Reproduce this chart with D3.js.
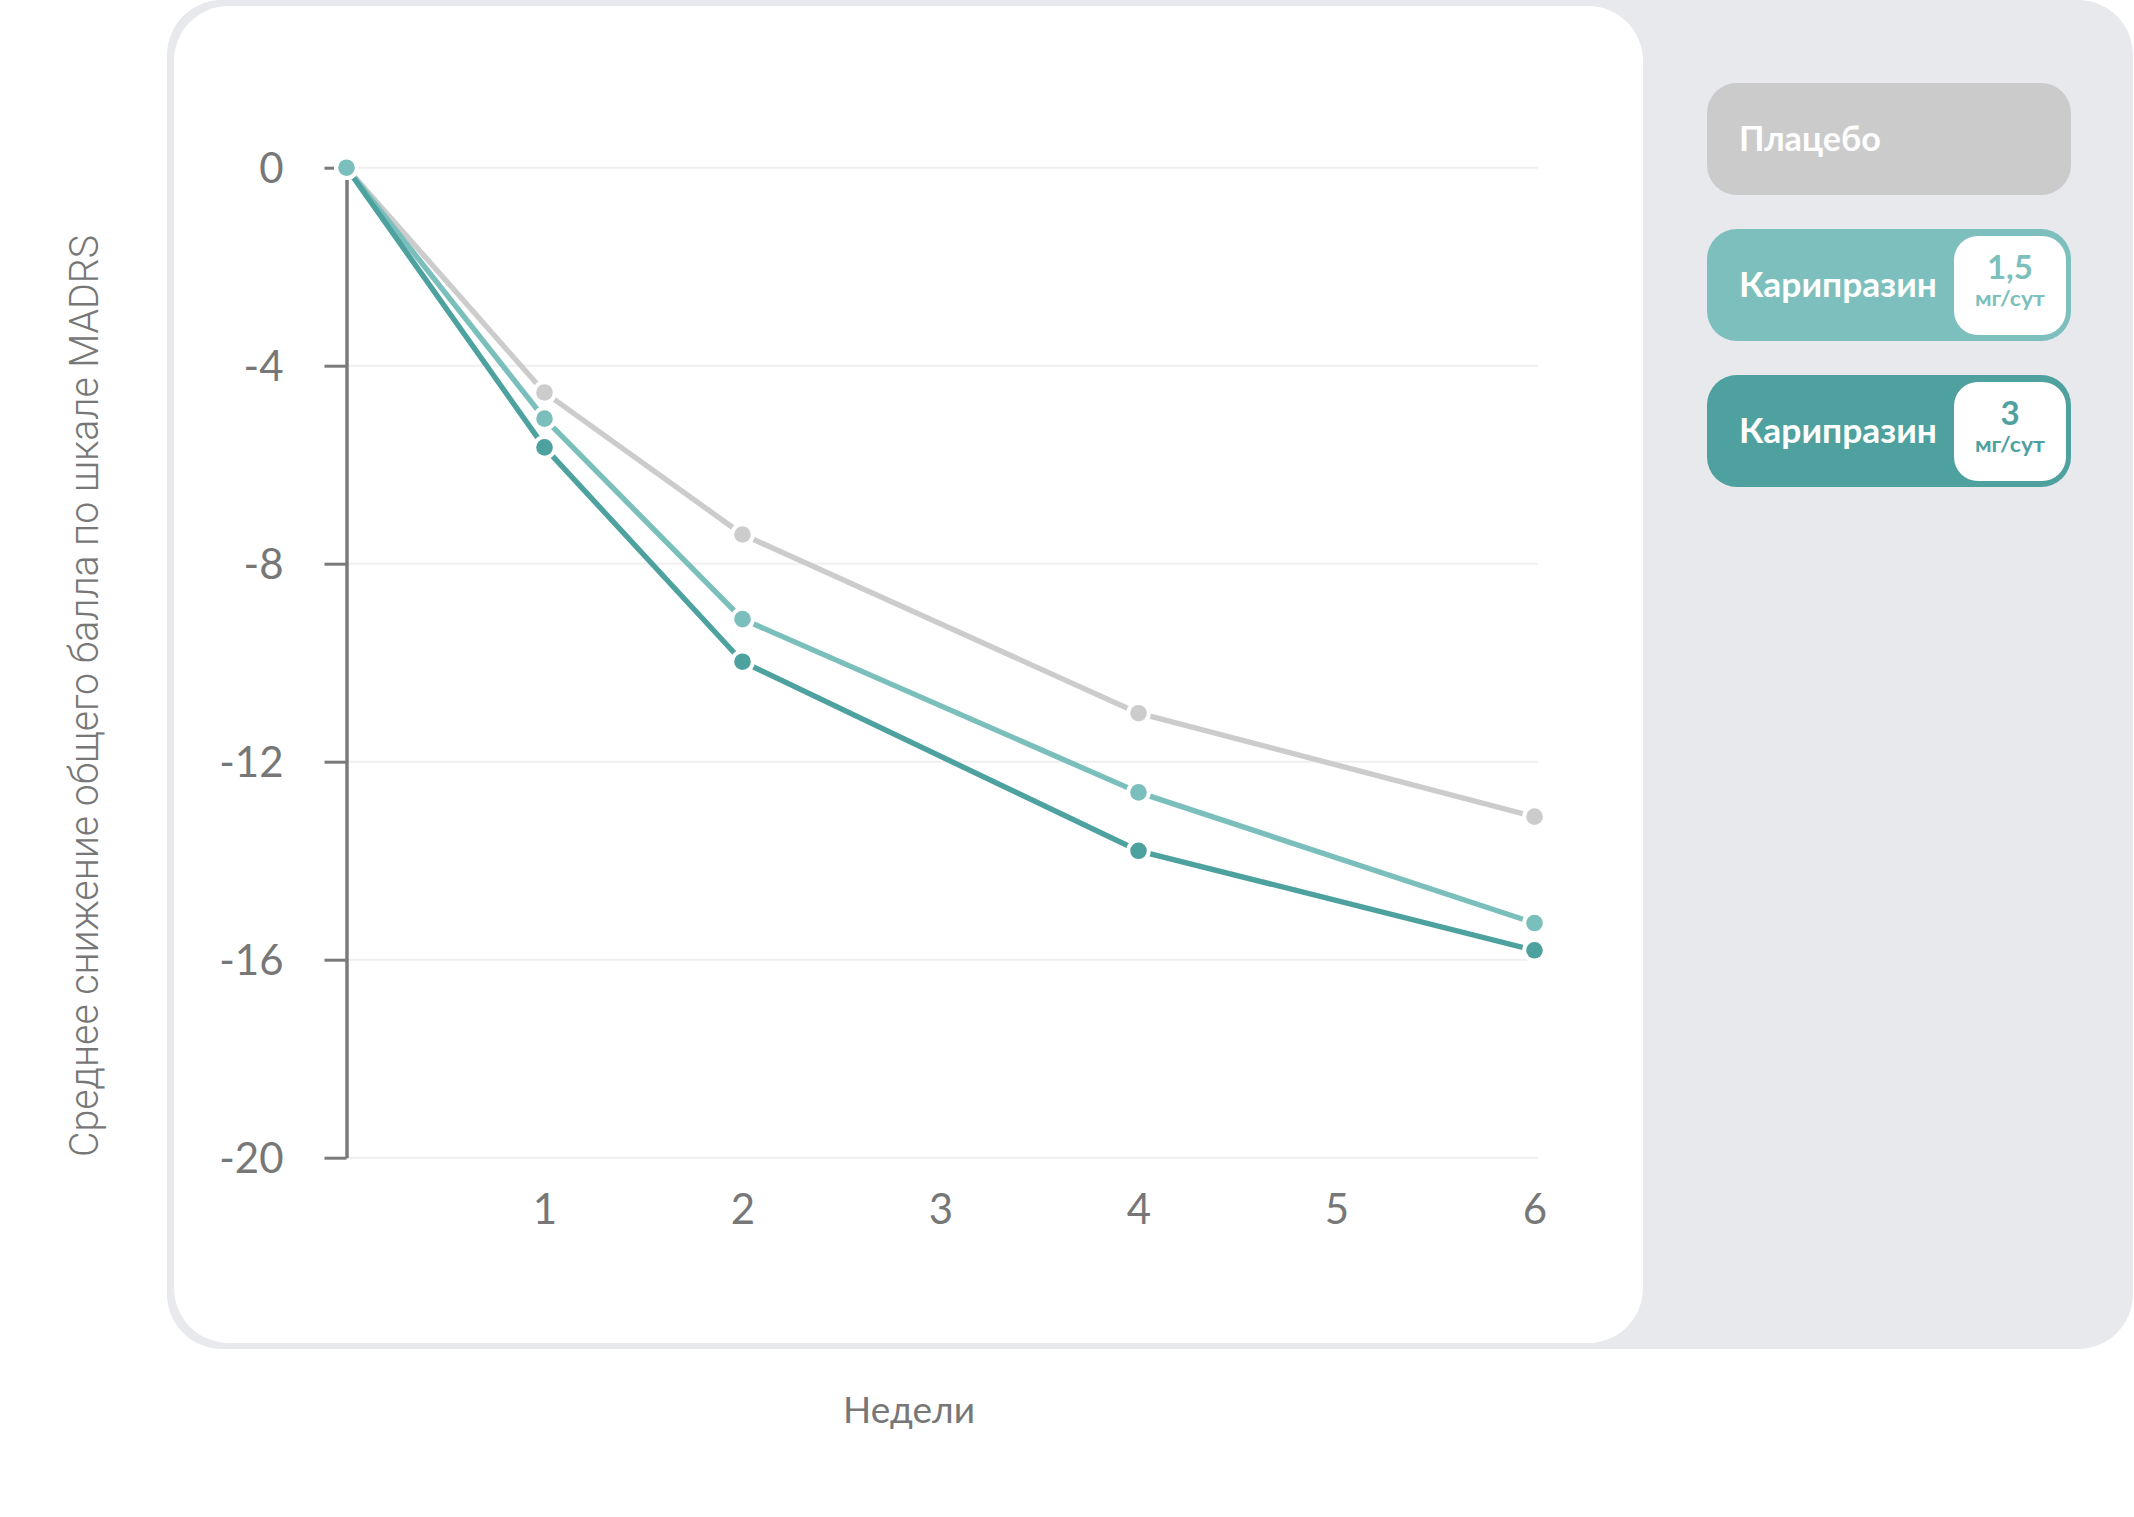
<!DOCTYPE html>
<html><head><meta charset="utf-8">
<script src="https://cdn.jsdelivr.net/npm/d3@7"></script>
<style>
html,body{margin:0;padding:0;background:#fff;}
svg{display:block;}
</style></head>
<body>
<script>
// ---- data ----
const weeks = [0, 1, 2, 4, 6];
const placebo = [0, -4.54, -7.41, -11.02, -13.11];
const cariprazine15 = [0, -5.07, -9.12, -12.62, -15.26];
const cariprazine3 = [0, -5.65, -9.98, -13.80, -15.81];
const yTicks = [0, -4, -8, -12, -16, -20];
const xTicks = [1, 2, 3, 4, 5, 6];
const yTitle = "Среднее снижение общего балла по шкале MADRS";
const xTitle = "Недели";
const legendNames = ["Плацебо", "Карипразин", "Карипразин"];
const legendDoses = [null, "1,5", "3"];
const doseUnit = "мг/сут";

const W = 2134, H = 1517;
const svg = d3.select("body").append("svg").attr("width", W).attr("height", H);

// panels
svg.append("rect").attr("x", 167).attr("y", 0).attr("width", 1966).attr("height", 1349)
  .attr("rx", 55).attr("fill", "#e8e9ed");
svg.append("rect").attr("x", 174).attr("y", 6).attr("width", 1469).attr("height", 1337)
  .attr("rx", 55).attr("fill", "#ffffff");

const x = d3.scaleLinear().domain([0, 6]).range([346.5, 1534.5]);
const y = d3.scaleLinear().domain([-20, 0]).range([1157.7, 167.7]);

const font = "Lato, 'Open Sans', sans-serif";
const axisColor = "#7a7a7a";
const textColor = "#777777";

// gridlines
svg.append("g").selectAll("line").data(yTicks).join("line")
  .attr("x1", x(0)).attr("x2", 1538)
  .attr("y1", d => y(d)).attr("y2", d => y(d))
  .attr("stroke", "#efefef").attr("stroke-width", 2);

// y axis
const yAxis = svg.append("g").attr("transform", `translate(${x(0)},0)`)
  .call(d3.axisLeft(y).tickValues(yTicks).tickSize(22).tickPadding(41).tickSizeOuter(0)
    .tickFormat(d => d === 0 ? "0" : "-" + Math.abs(d)));
yAxis.select(".domain").attr("stroke", axisColor).attr("stroke-width", 3.5);
yAxis.selectAll(".tick line").attr("stroke", axisColor).attr("stroke-width", 3);
yAxis.selectAll(".tick text").attr("fill", textColor).attr("font-family", font)
  .attr("font-size", 42).attr("font-weight", 400).attr("dy", "0.36em");

// x axis labels
const xAxis = svg.append("g").attr("transform", `translate(0,${y(-20)})`)
  .call(d3.axisBottom(x).tickValues(xTicks).tickSize(0).tickPadding(0).tickFormat(d3.format("d")));
xAxis.select(".domain").remove();
xAxis.selectAll(".tick text").attr("fill", textColor).attr("font-family", font)
  .attr("font-size", 42).attr("font-weight", 400).attr("y", 51).attr("dy", "0.36em");

// titles
svg.append("text").attr("x", 909).attr("y", 1423).attr("text-anchor", "middle")
  .attr("font-family", font).attr("font-size", 37).attr("fill", textColor).text(xTitle);
svg.append("text").attr("transform", "translate(98,696) rotate(-90)").attr("text-anchor", "middle")
  .attr("font-family", "Roboto, sans-serif").attr("font-weight", 300).attr("font-size", 41)
  .attr("fill", textColor).attr("textLength", 922).attr("lengthAdjust", "spacingAndGlyphs").text(yTitle);

// series
const series = [
  {name: "placebo", values: placebo, color: "#cccccc"},
  {name: "c15", values: cariprazine15, color: "#7bbfbc"},
  {name: "c3", values: cariprazine3, color: "#4da29f"}
];
const line = d3.line().x(d => x(d[0])).y(d => y(d[1]));
series.forEach(s => {
  svg.append("path").datum(weeks.map((w, i) => [w, s.values[i]]))
    .attr("d", line).attr("fill", "none").attr("stroke", s.color)
    .attr("stroke-width", 5.4).attr("stroke-linejoin", "round");
});
[series[0], series[2], series[1]].forEach(s => {
  svg.append("g").selectAll("circle").data(weeks.map((w, i) => [w, s.values[i]])).join("circle")
    .attr("cx", d => x(d[0])).attr("cy", d => y(d[1])).attr("r", 8.3)
    .attr("fill", s.color).attr("stroke", "#fff").attr("stroke-width", 8)
    .style("paint-order", "stroke");
});

// legend
const legColors = ["#cbcbcb", "#7dbfbd", "#4ea19e"];
const bold = "Lato, 'Open Sans', sans-serif";
const nameWidths = [142, 198, 198];
legendNames.forEach((nm, i) => {
  const top = 83 + i * 146;
  const g = svg.append("g");
  g.append("rect").attr("x", 1707).attr("y", top).attr("width", 364).attr("height", 112)
    .attr("rx", 30).attr("fill", legColors[i]);
  g.append("text").attr("x", 1739).attr("y", top + 68).attr("font-family", bold)
    .attr("font-weight", 700).attr("font-size", 34).attr("fill", "#fff")
    .attr("textLength", nameWidths[i]).attr("lengthAdjust", "spacingAndGlyphs").text(nm);
  if (legendDoses[i]) {
    g.append("rect").attr("x", 1954).attr("y", top + 7).attr("width", 112).attr("height", 99)
      .attr("rx", 24).attr("fill", "#fff");
    g.append("text").attr("x", 2010).attr("y", top + 50).attr("text-anchor", "middle")
      .attr("font-family", bold).attr("font-weight", 700).attr("font-size", 33)
      .attr("fill", legColors[i]).text(legendDoses[i]);
    g.append("text").attr("x", 2010).attr("y", top + 77).attr("text-anchor", "middle")
      .attr("font-family", bold).attr("font-weight", 700).attr("font-size", 21)
      .attr("fill", legColors[i]).attr("textLength", 70).attr("lengthAdjust", "spacingAndGlyphs").text(doseUnit);
  }
});
</script>
</body></html>
